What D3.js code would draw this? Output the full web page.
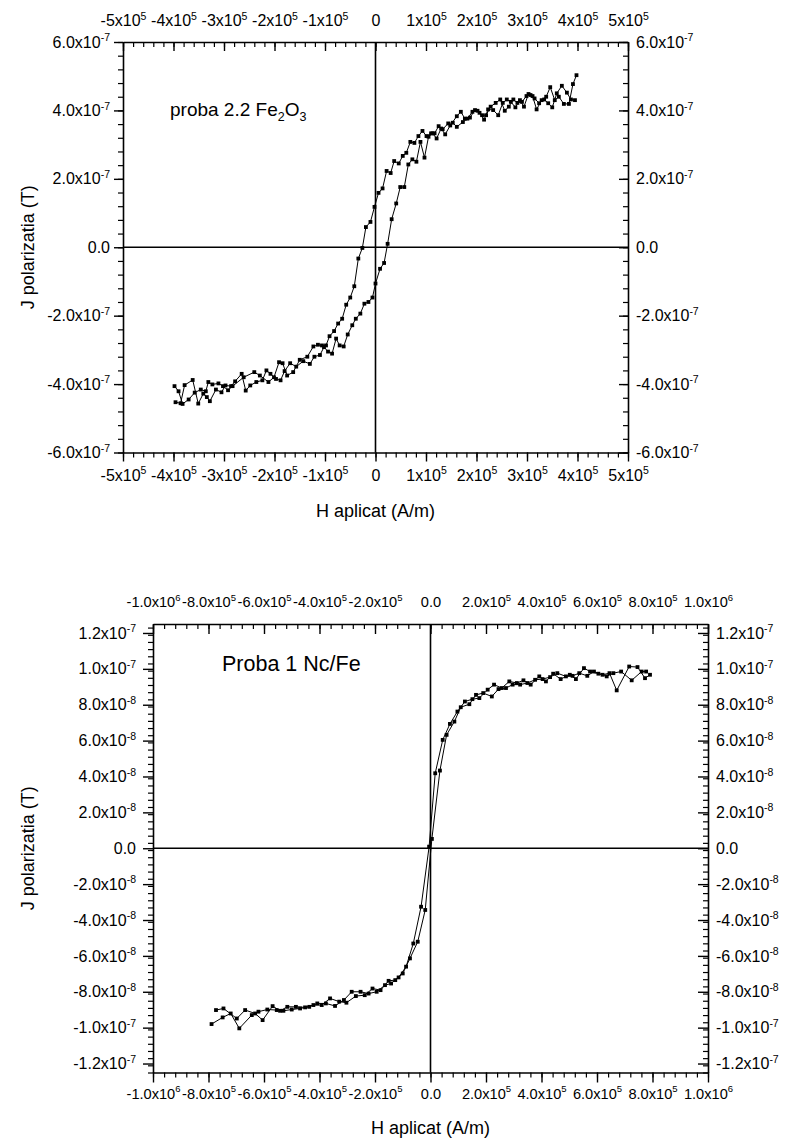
<!DOCTYPE html>
<html><head><meta charset="utf-8">
<script src="https://cdn.jsdelivr.net/npm/d3@7"></script>
<style>
body{margin:0;background:#fff}
text{font-family:Arial,"Liberation Sans",Helvetica,sans-serif;fill:#000}
</style>
</head><body>
<svg id="chart" width="787" height="1144"></svg>
<script>
// ---------------- DATA ----------------
// Top chart: H in units of 1e5 A/m, J in units of 1e-7 T
const topHUnit = 1e5, topJUnit = 1e-7;
const topDescending = [
 [3.95,4.30],[3.87,4.32],[3.79,4.52],[3.69,4.72],[3.59,4.50],[3.50,4.09],[3.42,4.21],[3.34,4.32],
 [3.24,4.21],[3.15,4.35],[3.07,4.45],[2.99,4.42],[2.90,4.25],[2.81,4.22],[2.73,4.32],[2.64,4.11],
 [2.56,3.99],[2.47,4.32],[2.38,4.22],[2.28,4.11],[2.19,3.86],[2.11,3.86],[2.02,3.99],[1.92,3.96],
 [1.82,3.76],[1.73,3.66],[1.61,3.52],[1.53,3.64],[1.44,3.62],[1.33,3.45],[1.25,3.54],[1.17,3.33],
 [1.10,3.33],[1.01,3.25],[0.93,3.40],[0.85,3.25],[0.77,3.05],[0.69,3.08],[0.61,2.76],[0.54,2.67],
 [0.46,2.45],[0.37,2.52],[0.30,2.17],[0.22,2.23],[0.14,1.72],[0.06,1.59],[-0.02,1.18],[-0.10,0.74],
 [-0.19,0.59],[-0.26,-0.02],[-0.34,-0.33],[-0.42,-1.14],[-0.50,-1.47],[-0.58,-1.68],[-0.66,-2.09],
 [-0.74,-2.23],[-0.82,-2.45],[-0.91,-2.60],[-0.98,-2.87],[-1.06,-2.87],[-1.14,-2.85],[-1.23,-2.90],
 [-1.35,-3.20],[-1.50,-3.29],[-1.63,-3.65],[-1.75,-3.75],[-1.84,-3.39],[-1.91,-3.36],[-2.01,-3.80],
 [-2.12,-3.94],[-2.29,-3.75],[-2.40,-3.65],[-2.61,-3.80],[-2.83,-4.06],[-2.92,-4.18],[-3.02,-4.06],
 [-3.11,-3.98],[-3.23,-4.01],[-3.31,-3.94],[-3.36,-4.21],[-3.46,-4.16],[-3.58,-4.25],[-3.70,-4.45],
 [-3.82,-4.58],[-3.90,-4.21],[-3.98,-4.06]
];
const topAscending = [
 [-3.96,-4.53],[-3.86,-4.56],[-3.78,-4.03],[-3.62,-3.88],[-3.51,-4.57],[-3.41,-4.28],[-3.34,-4.38],
 [-3.28,-4.50],[-3.16,-4.16],[-3.05,-4.24],[-2.97,-4.04],[-2.86,-4.06],[-2.78,-3.92],[-2.65,-3.70],
 [-2.57,-4.19],[-2.48,-4.04],[-2.36,-3.94],[-2.24,-3.89],[-2.16,-3.60],[-2.08,-3.70],[-1.97,-3.85],
 [-1.88,-3.89],[-1.80,-3.62],[-1.69,-3.39],[-1.57,-3.49],[-1.43,-3.33],[-1.30,-3.41],[-1.21,-3.20],
 [-1.10,-3.15],[-1.02,-2.92],[-0.94,-3.05],[-0.86,-3.11],[-0.78,-2.67],[-0.71,-2.87],[-0.63,-2.90],
 [-0.55,-2.55],[-0.46,-2.28],[-0.39,-2.09],[-0.30,-1.94],[-0.22,-1.65],[-0.14,-1.60],[-0.06,-1.47],
 [0.00,-1.06],[0.09,-0.63],[0.17,-0.46],[0.24,0.10],[0.32,0.82],[0.41,1.28],[0.49,1.76],[0.57,1.76],
 [0.65,2.42],[0.73,2.57],[0.81,2.50],[0.89,3.08],[0.97,2.62],[1.05,3.23],[1.13,3.33],[1.21,3.18],
 [1.30,3.47],[1.38,3.30],[1.48,3.56],[1.61,3.83],[1.69,3.96],[1.77,3.76],[1.87,3.79],[1.97,4.01],
 [2.06,3.93],[2.15,3.73],[2.23,4.03],[2.33,4.01],[2.43,3.86],[2.52,4.22],[2.60,4.32],[2.68,4.25],
 [2.77,4.09],[2.86,4.30],[2.94,4.11],[3.03,4.48],[3.11,4.42],[3.19,4.03],[3.29,4.30],[3.38,4.40],
 [3.46,4.68],[3.55,4.30],[3.63,4.40],[3.73,4.19],[3.83,4.19],[3.91,4.77],[3.98,5.03]
];
const topXTicks = [-5e5,-4e5,-3e5,-2e5,-1e5,0,1e5,2e5,3e5,4e5,5e5];
const topYTicks = [-6e-7,-4e-7,-2e-7,0,2e-7,4e-7,6e-7];

// Bottom chart: H in units of 1e5 A/m, J in units of 1e-8 T
const botHUnit = 1e5, botJUnit = 1e-8;
const botDescending = [
 [7.77,9.85],[7.61,9.85],[7.25,9.36],[6.87,9.85],[6.59,9.76],[6.35,9.58],[6.05,9.73],[5.75,9.85],
 [5.53,10.04],[5.24,9.43],[5.02,9.67],[4.69,9.43],[4.42,9.73],[4.16,9.30],[3.92,9.58],[3.61,9.12],
 [3.35,9.36],[3.11,9.21],[2.84,9.30],[2.57,8.93],[2.29,9.12],[2.06,8.84],[1.76,8.37],[1.51,8.31],
 [1.24,8.18],[0.97,7.62],[0.70,6.93],[0.44,6.04],[0.17,4.18],[-0.05,0.09],[-0.34,-3.26],[-0.62,-5.31],
 [-0.88,-6.60],[-1.15,-7.20],[-1.42,-7.54],[-1.64,-7.63],[-1.94,-8.00],[-2.23,-8.10],[-2.52,-8.00],
 [-2.84,-8.00],[-3.12,-8.46],[-3.44,-8.79],[-3.77,-8.65],[-4.08,-8.65],[-4.37,-8.84],[-4.70,-8.93],
 [-5.00,-8.99],[-5.30,-9.06],[-5.54,-9.02],[-5.88,-8.99],[-6.20,-9.11],[-6.44,-9.30],[-6.89,-10.04],
 [-7.20,-9.21],[-7.49,-9.43],[-7.89,-9.80]
];
const botAscending = [
 [-7.73,-9.02],[-7.46,-8.93],[-6.98,-9.49],[-6.68,-9.02],[-6.32,-9.21],[-6.05,-9.58],[-5.69,-8.80],
 [-5.42,-9.06],[-5.16,-8.84],[-4.85,-8.84],[-4.52,-8.87],[-4.22,-8.74],[-3.92,-8.74],[-3.62,-8.37],
 [-3.29,-8.55],[-3.03,-8.61],[-2.69,-8.24],[-2.37,-8.19],[-2.09,-7.82],[-1.80,-7.91],[-1.51,-7.39],
 [-1.27,-7.35],[-1.00,-6.98],[-0.74,-6.14],[-0.46,-5.21],[-0.19,-3.44],[0.05,0.52],[0.34,4.33],
 [0.58,6.32],[0.86,7.06],[1.09,7.86],[1.40,8.03],[1.64,8.55],[1.90,8.65],[2.21,8.46],[2.45,8.87],
 [2.72,8.93],[2.96,9.12],[3.23,9.12],[3.49,9.21],[3.77,9.39],[4.04,9.43],[4.31,9.54],[4.57,9.76],
 [4.88,9.58],[5.12,9.61],[5.36,9.76],[5.65,9.61],[5.89,9.85],[6.20,9.67],[6.45,9.76],[6.71,8.80],
 [7.16,10.13],[7.46,10.10],[7.73,9.48],[7.91,9.67]
];
const botXTicks = [-1e6,-8e5,-6e5,-4e5,-2e5,0,2e5,4e5,6e5,8e5,1e6];
const botYTicks = [-1.2e-7,-1e-7,-8e-8,-6e-8,-4e-8,-2e-8,0,2e-8,4e-8,6e-8,8e-8,1e-7,1.2e-7];

// ---------------- DRAW ----------------
const svg = d3.select("#chart");

function sciParts(v, digits, zeroText){
  if (v === 0) return {m: zeroText, e: null};
  const e = Math.floor(Math.log10(Math.abs(v)) + 1e-9);
  const m = v / Math.pow(10, e);
  return {m: m.toFixed(digits) + "x10", e: String(e)};
}
function fillLabels(g, digits, zeroText, fs, supFs){
  g.selectAll(".tick text").each(function(d){
    const t = d3.select(this).attr("font-size", fs);
    const p = sciParts(d, digits, zeroText);
    t.text(null);
    t.append("tspan").text(p.m);
    if (p.e !== null) t.append("tspan").attr("dy",-6.5).attr("font-size",supFs).text(p.e);
  });
}

function panel(cfg){
  const x = d3.scaleLinear().domain(cfg.xDomain).range([cfg.left, cfg.right]);
  const y = d3.scaleLinear().domain(cfg.yDomain).range([cfg.bottom, cfg.top]);
  const g = svg.append("g");

  // side: b,t,l,r ; inward ticks on top and right
  function axis(gen, tf, ticks, minor, isX, side){
    const dir = (side === "t" || side === "r") ? -1 : 1;
    const gm = g.append("g").attr("transform", tf)
      .call(gen.scale(isX ? x : y).tickValues(minor).tickSizeInner(dir*cfg.minorLen).tickSizeOuter(0).tickFormat(""));
    gm.select(".domain").remove();
    gm.selectAll("line").attr("stroke","#000").attr("stroke-width",1.2);
    const ga = g.append("g").attr("transform", tf)
      .call(gen.scale(isX ? x : y).tickValues(ticks).tickSizeInner(dir*cfg.majorLen).tickSizeOuter(0).tickPadding(cfg.pad[side]));
    ga.select(".domain").attr("stroke","#000").attr("stroke-width",1.6);
    ga.selectAll("line").attr("stroke","#000").attr("stroke-width",1.4);
    fillLabels(ga, isX ? cfg.xDigits : cfg.yDigits, isX ? cfg.xZero : cfg.yZero,
               isX ? cfg.xFs : cfg.yFs, isX ? cfg.xSupFs : cfg.ySupFs);
    return ga;
  }
  const xr = cfg.xDomain, yr = cfg.yDomain;
  const xMinor = d3.range(Math.round((xr[1]-xr[0])/cfg.xMinorStep)+1).map(i => xr[0] + i*cfg.xMinorStep);
  const yMinor = d3.range(Math.round((yr[1]-yr[0])/cfg.yMinorStep)+1).map(i => yr[0] + i*cfg.yMinorStep);

  axis(d3.axisBottom(), `translate(0,${cfg.bottom})`, cfg.xTicks, xMinor, true, "b");
  axis(d3.axisTop(), `translate(0,${cfg.top})`, cfg.xTicks, xMinor, true, "t");
  axis(d3.axisLeft(), `translate(${cfg.left},0)`, cfg.yTicks, yMinor, false, "l");
  axis(d3.axisRight(), `translate(${cfg.right},0)`, cfg.yTicks, yMinor, false, "r");

  // zero lines
  g.append("line").attr("x1",cfg.left).attr("x2",cfg.right).attr("y1",y(0)).attr("y2",y(0))
    .attr("stroke","#000").attr("stroke-width",1.6);
  g.append("line").attr("x1",x(0)).attr("x2",x(0)).attr("y1",cfg.top).attr("y2",cfg.bottom)
    .attr("stroke","#000").attr("stroke-width",1.6);

  const line = d3.line().x(d => x(d[0]*cfg.hUnit)).y(d => y(d[1]*cfg.jUnit));
  cfg.series.forEach(s => {
    g.append("path").datum(s).attr("d", line).attr("fill","none").attr("stroke","#000").attr("stroke-width",1);
    g.selectAll(null).data(s).enter().append("rect")
      .attr("x", d => x(d[0]*cfg.hUnit)-1.9).attr("y", d => y(d[1]*cfg.jUnit)-1.9)
      .attr("width",3.8).attr("height",3.8).attr("fill","#000");
  });

  // axis titles
  g.append("text").attr("x", (cfg.left+cfg.right)/2).attr("y", cfg.xTitleY)
    .attr("text-anchor","middle").attr("font-size",18).text("H aplicat (A/m)");
  g.append("text").attr("transform", `translate(${cfg.yTitleX},${(cfg.top+cfg.bottom)/2}) rotate(-90)`)
    .attr("text-anchor","middle").attr("font-size",18).text("J polarizatia (T)");
  return {x, y, g};
}

const p1 = panel({
  left:123, right:628, top:42, bottom:452.5,
  xDomain:[-5e5,5e5], yDomain:[-6e-7,6e-7],
  xTicks: topXTicks, yTicks: topYTicks, xMinorStep: 2e4, yMinorStep: 4e-8,
  majorLen: 9, minorLen: 5, pad:{b:8,t:16,l:4,r:8},
  xDigits:0, yDigits:1, xZero:"0", yZero:"0.0",
  xFs:16, xSupFs:10.5, yFs:16, ySupFs:10.5,
  hUnit: topHUnit, jUnit: topJUnit, series:[topDescending, topAscending],
  xTitleY: 517, yTitleX: 34
});
const t1 = p1.g.append("text").attr("x",170).attr("y",116).attr("font-size",19);
t1.append("tspan").text("proba 2.2 Fe");
t1.append("tspan").attr("dy",5).attr("font-size",12.5).text("2");
t1.append("tspan").attr("dy",-5).text("O");
t1.append("tspan").attr("dy",5).attr("font-size",12.5).text("3");

const p2 = panel({
  left:153, right:708, top:624, bottom:1072.5,
  xDomain:[-1e6,1e6], yDomain:[-1.25e-7,1.25e-7],
  xTicks: botXTicks, yTicks: botYTicks, xMinorStep: 4e4, yMinorStep: 4e-9,
  majorLen: 10, minorLen: 5, pad:{b:6,t:17,l:7,r:8},
  xDigits:1, yDigits:1, xZero:"0.0", yZero:"0.0",
  xFs:14.6, xSupFs:9.5, yFs:16, ySupFs:10.5,
  hUnit: botHUnit, jUnit: botJUnit, series:[botDescending, botAscending],
  xTitleY: 1134, yTitleX: 34
});
p2.g.append("text").attr("x",222).attr("y",671).attr("font-size",21.5).text("Proba 1 Nc/Fe");
</script>
</body></html>
